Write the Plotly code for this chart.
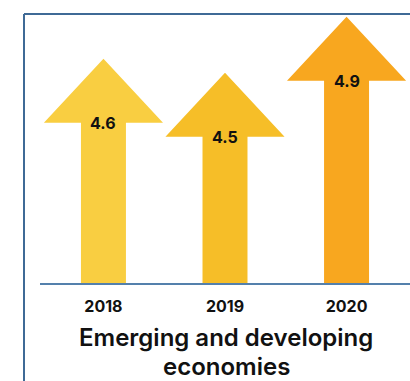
import plotly.graph_objects as go

# Growth forecasts, emerging and developing economies (%)
years = ["2018", "2019", "2020"]
growth = [4.6, 4.5, 4.9]
labels = ["4.6", "4.5", "4.9"]
title_lines = ["Emerging and developing", "economies"]

arrow_colors = ["#F9CE41", "#F6BE28", "#F8A71F"]
frame_color = "#3F6A96"
axis_color = "#5480AC"
text_color = "#111111"

W, H = 410, 381
M_L, M_R, M_T, M_B = 40, 0, 14, 98

y_base = 3.0
y_top = 4.919
x_lo, x_hi = -0.522, 2.522

shaft_half = 0.185   # half shaft width, in category units
head_half = 0.49     # half head width, in category units
head_h = 0.4565      # head height, in value units

pw = W - M_L - M_R
ph = H - M_T - M_B


def px_to_paper_x(px):
    return (px - M_L) / pw


def px_to_paper_y(py):
    return (H - M_B - py) / ph


fig = go.Figure()

for i, (v, col) in enumerate(zip(growth, arrow_colors)):
    neck = v - head_h
    xs = [i - shaft_half, i - shaft_half, i - head_half, i, i + head_half,
          i + shaft_half, i + shaft_half, i - shaft_half]
    ys = [y_base, neck, neck, v, neck, neck, y_base, y_base]
    fig.add_trace(go.Scatter(
        x=xs, y=ys, mode="lines", fill="toself",
        fillcolor=col, line=dict(width=0, color=col),
        hoverinfo="skip", showlegend=False,
    ))
    fig.add_annotation(
        x=i, y=neck, xref="x", yref="y", text="<b>%s</b>" % labels[i],
        showarrow=False, font=dict(family="Inter", size=16, color=text_color),
        xanchor="center", yanchor="middle",
    )

fig.update_xaxes(
    range=[x_lo, x_hi], tickmode="array", tickvals=list(range(len(years))),
    ticktext=["<b>%s</b>" % y for y in years],
    tickfont=dict(family="Inter", size=16, color=text_color),
    showline=True, linecolor=axis_color, linewidth=2,
    ticks="outside", ticklen=8, tickcolor="rgba(0,0,0,0)",
    showgrid=False, zeroline=False, fixedrange=True,
)
fig.update_yaxes(
    range=[y_base, y_top], visible=False, showgrid=False, zeroline=False,
    fixedrange=True,
)

# Chart title below the axis, one annotation per line
for line, cy in zip(title_lines, [337, 366]):
    fig.add_annotation(
        x=px_to_paper_x(226), y=px_to_paper_y(cy),
        xref="paper", yref="paper", xanchor="center", yanchor="middle",
        text=line, showarrow=False,
        font=dict(family="Inter", size=24, weight=600, color=text_color),
    )

# Panel frame (left and top edges)
fx = px_to_paper_x(24)
fig.add_shape(type="line", xref="paper", yref="paper",
              x0=fx, x1=fx, y0=1.0, y1=-0.5,
              line=dict(color=frame_color, width=2))
fig.add_shape(type="line", xref="paper", yref="paper",
              x0=fx, x1=1.1, y0=1.0, y1=1.0,
              line=dict(color=frame_color, width=2))

fig.update_layout(
    width=W, height=H, margin=dict(l=M_L, r=M_R, t=M_T, b=M_B),
    plot_bgcolor="white", paper_bgcolor="white",
    showlegend=False,
)

fig.write_html("out.html")
